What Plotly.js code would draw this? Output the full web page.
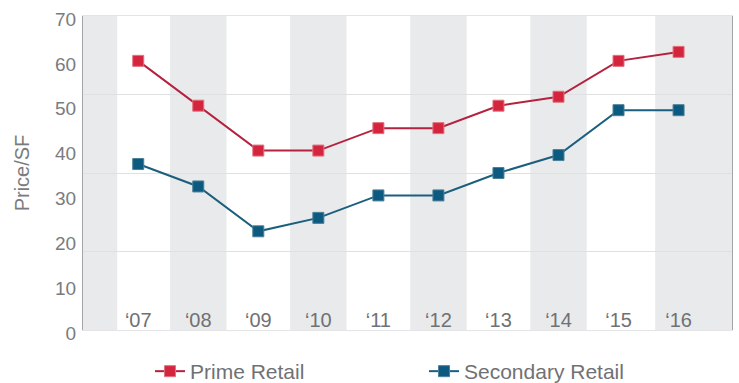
<!DOCTYPE html>
<html>
<head>
<meta charset="utf-8">
<script src="https://cdn.plot.ly/plotly-3.0.1.min.js"></script>
<style>html,body{margin:0;padding:0;background:#fff;}#chart{width:739px;height:383px;}</style>
</head>
<body>
<div id="chart"></div>
<script>
var years = [2007, 2008, 2009, 2010, 2011, 2012, 2013, 2014, 2015, 2016];
var yearLabels = ["\u201807", "\u201808", "\u201809", "\u201810", "\u201811", "\u201812", "\u201813", "\u201814", "\u201815", "\u201816"];
var primeRetail = [60, 50, 40, 40, 45, 45, 50, 52, 60, 62];
var secondaryRetail = [37, 32, 22, 25, 30, 30, 35, 39, 49, 49];
var shadedYears = [2006, 2008, 2010, 2012, 2014, 2016];

var xMin = 2006.08, xMax = 2016.89;
var bandHalf = 0.47;
var shapes = shadedYears.map(function (yr) {
  var x0 = Math.max(xMin, yr - bandHalf);
  var x1 = Math.min(xMax, yr + bandHalf);
  if (yr === 2006) { x1 = 2006.65; }
  if (yr === 2016) { x0 = 2015.61; x1 = xMax; }
  return {type: 'rect', xref: 'x', yref: 'paper', x0: x0, x1: x1, y0: 0, y1: 1,
          fillcolor: '#e9eaeb', line: {width: 0}, layer: 'below'};
});

var font = "Liberation Sans, Arial, Helvetica, sans-serif";
var traces = [
  {x: years, y: primeRetail, name: 'Prime Retail', type: 'scatter', mode: 'lines+markers',
   legend: 'legend',
   line: {color: '#b3223f', width: 2},
   marker: {symbol: 'square', size: 11, color: '#d3263e', line: {color: '#e4707c', width: 1}}},
  {x: years, y: secondaryRetail, name: 'Secondary Retail', type: 'scatter', mode: 'lines+markers',
   legend: 'legend2',
   line: {color: '#1b5f7e', width: 2},
   marker: {symbol: 'square', size: 11, color: '#0d5a80', line: {color: '#4c7f99', width: 1}}},
  {x: [xMin, xMax], y: [0, 0], yaxis: 'y2', type: 'scatter', mode: 'lines',
   line: {width: 0}, showlegend: false, hoverinfo: 'skip'}
];

var legendBase = {orientation: 'h', xref: 'container', yref: 'container', yanchor: 'middle',
                  xanchor: 'left', y: 0.03, font: {size: 21, color: '#707174'},
                  bgcolor: 'rgba(0,0,0,0)'};
var layout = {
  width: 739, height: 383,
  margin: {l: 83, r: 7, t: 16, b: 53},
  paper_bgcolor: '#ffffff', plot_bgcolor: 'rgba(0,0,0,0)',
  font: {family: font, color: '#7a7b7e'},
  shapes: shapes,
  showlegend: true,
  legend: Object.assign({}, legendBase, {x: 150 / 739}),
  legend2: Object.assign({}, legendBase, {x: 424 / 739}),
  xaxis: {range: [xMin, xMax], tickvals: years, ticktext: yearLabels,
          ticklabelposition: 'outside', ticklabelstandoff: -28, ticks: '', showgrid: false, zeroline: false,
          showline: true, mirror: true, linecolor: '#e3e4e5', linewidth: 1,
          tickfont: {size: 20, color: '#707174'}, automargin: false},
  yaxis: {range: [0, 70], dtick: 10, tick0: 0, showgrid: false, zeroline: false,
          showline: true, mirror: true, linecolor: '#a4a5a7', linewidth: 1, ticks: '',
          tickfont: {size: 19, color: '#7a7b7e'}, ticklabelstandoff: 2, ticklabelshift: 3, automargin: false,
          title: {text: 'Price/SF', font: {size: 20, color: '#7a7b7e'}, standoff: 20}},
  yaxis2: {range: [0, 70], dtick: 17.5, tick0: 0, overlaying: 'y', side: 'right',
           showgrid: true, gridcolor: '#dfe0e1', gridwidth: 1, showticklabels: false,
           zeroline: false, ticks: ''}
};

Plotly.newPlot('chart', traces, layout, {displayModeBar: false, staticPlot: true});
</script>
</body>
</html>
